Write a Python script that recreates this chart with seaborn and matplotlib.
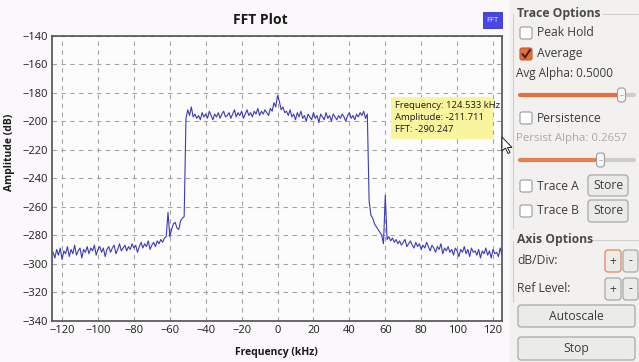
import numpy as np
import pandas as pd
import matplotlib
matplotlib.use("Agg")
import matplotlib.pyplot as plt
from matplotlib.patches import FancyBboxPatch, Rectangle, Polygon
import seaborn as sns

# ---------------- data ----------------
freq_khz = np.arange(-125, 126, 1)
amplitude_db = [
    -292, -296, -290, -294, -289, -297, -291, -293, -288, -295,
    -290, -293, -287, -294, -291, -289, -296, -290, -292, -288,
    -293, -289, -291, -287, -294, -290, -288, -292, -289, -295,
    -290, -288, -292, -289, -287, -293, -290, -286, -291, -289,
    -287, -291, -288, -290, -286, -289, -287, -292, -288, -285,
    -289, -286, -288, -284, -290, -287, -285, -288, -284, -286,
    -283, -285, -282, -281, -264, -281, -276, -272, -271, -275,
    -276, -270, -268, -267, -198, -192, -196, -190, -197, -195,
    -198, -196, -199, -194, -197, -195, -198, -193, -196, -199,
    -195, -197, -194, -198, -195, -193, -197, -196, -194, -198,
    -195, -192, -197, -194, -196, -193, -198, -195, -192, -196,
    -194, -197, -193, -195, -191, -196, -193, -195, -192, -194,
    -196, -191, -193, -187, -190, -182, -186, -192, -190, -194,
    -193, -196, -192, -197, -195, -199, -194, -197, -193, -198,
    -196, -200, -195, -197, -199, -194, -198, -196, -201, -195,
    -197, -199, -194, -198, -196, -200, -195, -197, -199, -196,
    -198, -195, -197, -200, -196, -194, -198, -196, -199, -195,
    -197, -194, -196, -193, -198, -195, -256, -266, -268, -272,
    -274, -276, -278, -280, -286, -252, -283, -281, -284, -282,
    -285, -283, -286, -284, -287, -285, -283, -288, -286, -284,
    -287, -289, -285, -288, -286, -290, -287, -289, -285, -288,
    -291, -287, -289, -292, -288, -290, -286, -293, -289, -291,
    -288, -292, -290, -294, -289, -291, -295, -290, -292, -288,
    -293, -290, -295, -289, -292, -291, -294, -290, -296, -291,
    -293, -289, -294, -291, -296, -290, -293, -292, -295, -289,
    -294,
]
x_ticks = [-120, -100, -80, -60, -40, -20, 0, 20, 40, 60, 80, 100, 120]
y_ticks = [-340, -320, -300, -280, -260, -240, -220, -200, -180, -160, -140]
title_text = "FFT Plot"
x_label = "Frequency (kHz)"
y_label = "Amplitude (dB)"
legend_label = "FFT"
tooltip_lines = ["Frequency: 124.533 kHz", "Amplitude: -211.711", "FFT: -290.247"]

df = pd.DataFrame({"freq": freq_khz, "amp": amplitude_db})

# ---------------- style ----------------
sns.set_theme(style="white")
plt.rcParams["font.family"] = ["Open Sans", "DejaVu Sans"]

W, H = 639, 362
BG = "#faf8fa"
LINE = "#3b3bb8"

fig = plt.figure(figsize=(W / 100, H / 100), dpi=100, facecolor=BG)
ax = fig.add_axes([52 / W, 1 - 320.7 / H, 450 / W, 285 / H])
ax.set_facecolor("#fdfcfd")

sns.lineplot(data=df, x="freq", y="amp", ax=ax, color=LINE, linewidth=0.8)

ax.set_xlim(-125.6, 125)
ax.set_ylim(-340, -140)
ax.set_xticks(x_ticks)
ax.set_yticks(y_ticks)
ax.set_xlabel("")
ax.set_ylabel("")
ax.set_axisbelow(True)
ax.grid(True, color="#a4a4a4", linestyle=(0, (4, 4)), linewidth=0.8)
for s in ax.spines.values():
    s.set_visible(True)
    s.set_color("#505050")
    s.set_linewidth(1.2)
ax.tick_params(axis="both", length=0, pad=3, labelsize=8, labelcolor="#1e1e1e")

# ---------------- overlay (pixel coords) ----------------
ov = fig.add_axes([0, 0, 1, 1], zorder=5)
ov.set_xlim(0, W)
ov.set_ylim(H, 0)
ov.axis("off")
ov.set_facecolor("none")
ov.patch.set_alpha(0)

ov.text(260, 20, title_text, ha="center", va="center", fontsize=10, fontweight="bold", color="#1a1a1a")
ov.text(276, 352, x_label, ha="center", va="center", fontsize=7.5, fontweight="bold", color="#1a1a1a")
ov.text(10, 152, y_label, ha="center", va="center", rotation=90, fontsize=7.5, fontweight="bold", color="#1a1a1a")

# legend chip
ov.add_patch(Rectangle((483, 12), 19, 16, fc="#4747e6", ec="#3434c4", lw=0.6))
ov.text(492.5, 20, legend_label, ha="center", va="center", fontsize=5.5, color="#e8e8ff")

# tooltip
ov.add_patch(Rectangle((391, 97), 102, 42, fc="#f9f59e", ec="none"))
for i, t in enumerate(tooltip_lines):
    ov.text(395, 105 + 12 * i, t, ha="left", va="center", fontsize=6.8, color="#1a1a1a")

# mouse cursor
ov.add_patch(Polygon([(502, 137), (502, 151), (505.5, 148), (508, 153.5), (510, 152.5),
                      (507.5, 147.5), (512, 147.5)], closed=True, fc="white", ec="#202020", lw=0.7))

# ---------------- right control panel ----------------
ov.add_patch(Rectangle((509, 0), 130, H, fc="#f2f1f0", ec="none", zorder=0))
TXT = "#3c3c3c"
FR = "#cfcfcf"
ov.plot([512.5, 512.5], [14, 228], color=FR, lw=0.8)
ov.plot([603, 638], [14, 14], color=FR, lw=0.8)
ov.plot([512.5, 512.5], [241, 302], color=FR, lw=0.8)
ov.plot([592, 638], [240, 240], color=FR, lw=0.8)


def checkbox(cx, cy, checked=False):
    if checked:
        ov.add_patch(FancyBboxPatch((cx - 6, cy - 6), 12, 12, boxstyle="round,pad=0,rounding_size=2",
                                    fc="#e2703c", ec="#c25a28", lw=0.8))
        ov.plot([cx - 3.5, cx - 1, cx + 4], [cy, cy + 3.5, cy - 4], color="#4a2010", lw=1.5)
    else:
        ov.add_patch(FancyBboxPatch((cx - 6, cy - 6), 12, 12, boxstyle="round,pad=0,rounding_size=2",
                                    fc="#ffffff", ec="#9a9a9a", lw=0.8))


def slider(x0, xh, x1, y, col):
    ov.plot([xh, x1], [y, y], color="#cdcdcd", lw=3, solid_capstyle="round")
    ov.plot([x0, xh], [y, y], color=col, lw=3, solid_capstyle="round")
    ov.add_patch(FancyBboxPatch((xh - 4, y - 7), 8, 14, boxstyle="round,pad=0,rounding_size=3",
                                fc="#f7f7f7", ec="#9d9d9d", lw=0.8, zorder=6))
    ov.plot([xh - 1.5, xh + 1.5], [y, y], color="#b0b0b0", lw=0.6, zorder=7)


def button(x, y, w, h, label, edge="#a8a8a8", fs=8.7):
    ov.add_patch(FancyBboxPatch((x, y), w, h, boxstyle="round,pad=0,rounding_size=3",
                                fc="#ebebea", ec=edge, lw=0.9))
    ov.text(x + w / 2, y + h / 2, label, ha="center", va="center", fontsize=fs, color=TXT)


ov.text(517, 14, "Trace Options", ha="left", va="center", fontsize=8.7, fontweight="bold", color="#4a4a4a")
checkbox(526, 33)
ov.text(537, 33, "Peak Hold", ha="left", va="center", fontsize=8.7, color=TXT)
checkbox(526, 54, checked=True)
ov.text(537, 54, "Average", ha="left", va="center", fontsize=8.7, color=TXT)
ov.text(516.5, 74, "Avg Alpha: 0.5000", ha="left", va="center", fontsize=8.5, color=TXT)
slider(520, 621.5, 634, 95, "#e3703d")
checkbox(526, 118)
ov.text(537, 118, "Persistence", ha="left", va="center", fontsize=8.7, color=TXT)
ov.text(516.5, 139, "Persist Alpha: 0.2657", ha="left", va="center", fontsize=8.2, color="#a9a9a9")
slider(520, 600.5, 634, 160, "#e6804f")
checkbox(526, 186)
ov.text(537, 186, "Trace A", ha="left", va="center", fontsize=8.7, color=TXT)
button(588, 175, 40, 21, "Store")
checkbox(526, 211)
ov.text(537, 211, "Trace B", ha="left", va="center", fontsize=8.7, color=TXT)
button(588, 200, 40, 22, "Store")

ov.text(517, 240, "Axis Options", ha="left", va="center", fontsize=8.7, fontweight="bold", color="#4a4a4a")
ov.text(517, 261, "dB/Div:", ha="left", va="center", fontsize=8.7, color=TXT)
button(605, 250, 16, 22, "+", edge="#e0895f")
button(623, 250, 15, 22, "-")
ov.text(517, 289, "Ref Level:", ha="left", va="center", fontsize=8.7, color=TXT)
button(605, 278, 16, 22, "+")
button(623, 278, 15, 22, "-")
button(518, 305, 117, 22, "Autoscale")
button(518, 337, 117, 23, "Stop")

fig.savefig("out.png", dpi=100, facecolor=BG)
